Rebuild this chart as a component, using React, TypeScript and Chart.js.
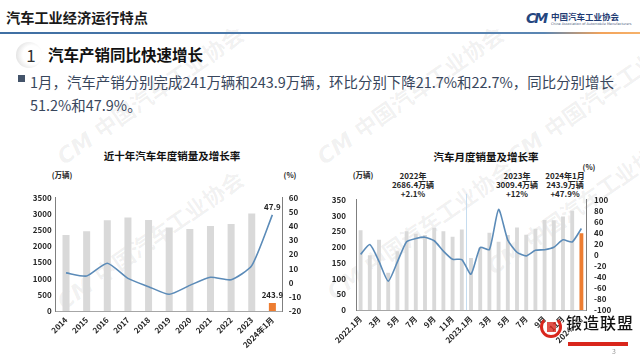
import React, { useEffect, useRef } from "react";
import { Chart, registerables } from "chart.js";
Chart.register(...registerables);

// ---------- data ----------
const yearCategories = ["2014", "2015", "2016", "2017", "2018", "2019", "2020", "2021", "2022", "2023", "2024年1月"];
const yearSales = [2349.2, 2459.8, 2802.8, 2887.9, 2808.1, 2576.9, 2531.1, 2627.5, 2686.4, 3009.4, 243.9];
const yearGrowth = [6.9, 4.7, 13.7, 3.0, -2.8, -8.2, -1.9, 3.8, 2.1, 12.0, 47.9];
const yearLeftTicks = { min: 0, max: 3500, step: 500 };
const yearRightTicks = { min: -20, max: 60, step: 10 };

const monthCategories = [
  "2022.1月", "2月", "3月", "4月", "5月", "6月", "7月", "8月", "9月", "10月", "11月", "12月",
  "2023.1月", "2月", "3月", "4月", "5月", "6月", "7月", "8月", "9月", "10月", "11月", "12月",
  "2024.1月",
];
const monthSales = [
  253.1, 173.7, 223.4, 118.1, 186.2, 250.2, 242.0, 238.3, 261.0, 250.1, 232.6, 255.6,
  164.9, 197.6, 245.1, 216.6, 238.2, 262.2, 238.7, 258.2, 285.8, 285.3, 297.0, 315.6,
  243.9,
];
const monthGrowth = [
  0.9, 18.7, -11.7, -47.6, -12.6, 23.8, 29.7, 32.1, 25.7, 6.9, -7.9, -8.4,
  -35.0, 13.5, 9.7, 82.5, 26.9, 4.8, -1.7, 8.4, 9.5, 13.8, 27.4, 23.5,
  47.9,
];
const monthLeftTicks = { min: 0, max: 350, step: 50 };
const monthRightTicks = { min: -100, max: 100, step: 20 };
const separatorBefore = "2023.1月";

const annotations = [
  { lines: ["2022年", "2686.4万辆", "+2.1%"], x: 413 },
  { lines: ["2023年", "3009.4万辆", "+12%"], x: 517 },
  { lines: ["2024年1月", "243.9万辆", "+47.9%"], x: 565 },
];

const watermarks = [
  { x: 150, y: 95 },
  { x: 410, y: 95 },
  { x: 600, y: 95 },
  { x: 150, y: 240 },
  { x: 420, y: 230 },
  { x: 580, y: 205 },
];

// ---------- style ----------
const FONT = '"Noto Sans CJK SC", "Noto Sans", sans-serif';
const GRAY = "#d9d9d9";
const ORANGE = "#ed7d31";
const LINE = "#5b8bb8";
const TICK = "#262626";

function barColors(n: number) {
  return Array.from({ length: n }, (_, i) => (i === n - 1 ? ORANGE : GRAY));
}

const tickFont = { family: FONT, size: 8, weight: "bold" as const };

function makeYAxis(
  pos: "left" | "right",
  t: { min: number; max: number; step: number },
  width: number,
  pad: number
) {
  return {
    position: pos,
    min: t.min,
    max: t.max,
    grid: { display: false, drawTicks: false },
    border: { display: true, color: "#7f7f7f", width: 1 },
    ticks: {
      stepSize: t.step,
      autoSkip: false,
      font: tickFont,
      color: TICK,
      padding: pad,
      callback: (v: any) => String(v),
    },
    afterFit: (s: any) => {
      s.width = width;
    },
  };
}

const lastLabelPlugin = {
  id: "lastLabels",
  afterDatasetsDraw(chart: any) {
    const ctx = chart.ctx;
    ctx.save();
    ctx.font = `bold 8px ${FONT}`;
    ctx.fillStyle = TICK;
    ctx.textAlign = "center";
    ctx.textBaseline = "bottom";
    chart.data.datasets.forEach((ds: any, i: number) => {
      const meta = chart.getDatasetMeta(i);
      const el = meta.data[meta.data.length - 1];
      const v = ds.data[ds.data.length - 1];
      ctx.fillText(String(v), el.x, el.y - 4);
    });
    ctx.restore();
  },
};

const separatorPlugin = {
  id: "separator",
  beforeDatasetsDraw(chart: any) {
    const xs = chart.scales.x;
    const idx = monthCategories.indexOf(separatorBefore);
    const px = (xs.getPixelForValue(idx - 1) + xs.getPixelForValue(idx)) / 2;
    const ctx = chart.ctx;
    ctx.save();
    ctx.strokeStyle = "#c5dcef";
    ctx.lineWidth = 1;
    ctx.beginPath();
    ctx.moveTo(Math.round(px) + 0.5, chart.chartArea.top - 6);
    ctx.lineTo(Math.round(px) + 0.5, chart.chartArea.bottom);
    ctx.stroke();
    ctx.restore();
  },
};

function YearChart() {
  const ref = useRef<HTMLCanvasElement>(null);
  useEffect(() => {
    const chart = new Chart(ref.current!, {
      type: "bar",
      data: {
        labels: yearCategories,
        datasets: [
          {
            type: "line",
            data: yearGrowth,
            yAxisID: "y1",
            borderColor: LINE,
            borderWidth: 1.6,
            pointRadius: 0,
            tension: 0.2,
            order: 0,
          } as any,
          {
            type: "bar",
            data: yearSales,
            yAxisID: "y",
            backgroundColor: barColors(yearSales.length),
            barPercentage: 0.34,
            categoryPercentage: 1,
            order: 1,
          },
        ],
      },
      options: {
        animation: false,
        responsive: false,
        layout: { padding: { top: 12.7, left: 0, right: 0, bottom: 0 } },
        plugins: { legend: { display: false }, tooltip: { enabled: false } },
        scales: {
          x: {
            grid: { display: false, drawTicks: false },
            border: { display: true, color: "#a6a6a6" },
            ticks: { font: tickFont, color: TICK, minRotation: 45, maxRotation: 45, autoSkip: false, padding: 4 },
            afterFit: (s: any) => {
              s.height = 49;
            },
          },
          y: makeYAxis("left", yearLeftTicks, 55.7, 4),
          y1: makeYAxis("right", yearRightTicks, 27.3, 6),
        } as any,
      },
      plugins: [lastLabelPlugin],
    });
    return () => chart.destroy();
  }, []);
  return <canvas ref={ref} width={310} height={175} style={{ position: "absolute", left: 0, top: 185 }} />;
}

function MonthChart() {
  const ref = useRef<HTMLCanvasElement>(null);
  useEffect(() => {
    const chart = new Chart(ref.current!, {
      type: "bar",
      data: {
        labels: monthCategories,
        datasets: [
          {
            type: "line",
            data: monthGrowth,
            yAxisID: "y1",
            borderColor: LINE,
            borderWidth: 1.6,
            pointRadius: 0,
            tension: 0.2,
            order: 0,
          } as any,
          {
            type: "bar",
            data: monthSales,
            yAxisID: "y",
            backgroundColor: barColors(monthSales.length),
            barPercentage: 0.42,
            categoryPercentage: 1,
            order: 1,
          },
        ],
      },
      options: {
        animation: false,
        responsive: false,
        layout: { padding: { top: 13, left: 0, right: 0, bottom: 0 } },
        plugins: { legend: { display: false }, tooltip: { enabled: false } },
        scales: {
          x: {
            grid: { display: false, drawTicks: false },
            border: { display: true, color: "#a6a6a6" },
            ticks: {
              font: tickFont,
              color: TICK,
              minRotation: 45,
              maxRotation: 45,
              autoSkip: false,
              padding: 4,
              callback: (_v: any, i: number) => (i % 2 === 0 ? monthCategories[i] : ""),
            },
            afterFit: (s: any) => {
              s.height = 50;
            },
          },
          y: makeYAxis("left", monthLeftTicks, 46, 10),
          y1: makeYAxis("right", monthRightTicks, 54, 8),
        } as any,
      },
      plugins: [separatorPlugin],
    });
    return () => chart.destroy();
  }, []);
  return <canvas ref={ref} width={330} height={175} style={{ position: "absolute", left: 310, top: 185 }} />;
}

const abs = (x: number, y: number, extra: React.CSSProperties = {}): React.CSSProperties => ({
  position: "absolute",
  left: x,
  top: y,
  whiteSpace: "nowrap",
  ...extra,
});

const centered = (x: number, y: number, extra: React.CSSProperties = {}): React.CSSProperties =>
  abs(x, y, { transform: "translate(-50%, -50%)", textAlign: "center", ...extra });

export default function App() {
  return (
    <div
      style={{
        position: "fixed",
        left: 0,
        top: 0,
        width: 640,
        height: 360,
        background: "#ffffff",
        overflow: "hidden",
        fontFamily: FONT,
        color: "#222",
      }}
    >
      {/* faint watermarks */}
      {watermarks.map((w, i) => (
        <div
          key={"wm" + i}
          style={abs(w.x, w.y, {
            transform: "translate(-50%, -50%) rotate(-35deg)",
            color: "rgba(60,60,60,0.07)",
            fontSize: 22,
            fontWeight: 700,
            lineHeight: "24px",
          })}
        >
          <span style={{ fontStyle: "italic", fontFamily: '"DejaVu Sans", sans-serif', fontWeight: 900 }}>CM </span>
          中国汽车工业协会
        </div>
      ))}

      {/* header */}
      <div style={abs(6, 6, { fontSize: 14.2, fontWeight: 700, color: "#1a1a1a", lineHeight: "22px" })}>
        汽车工业经济运行特点
      </div>
      <div
        style={abs(526, 8, {
          fontSize: 14,
          fontWeight: 900,
          fontStyle: "italic",
          color: "#25467f",
          fontFamily: '"DejaVu Sans", sans-serif',
          letterSpacing: -2,
          lineHeight: "20px",
        })}
      >
        CM
      </div>
      <div style={abs(551, 11, { fontSize: 8.5, fontWeight: 700, color: "#1f3b73", lineHeight: "10px" })}>
        中国汽车工业协会
      </div>
      <div
        style={abs(551, 22, {
          fontSize: 3.4,
          color: "#4a5a7a",
          lineHeight: "4px",
          fontFamily: '"DejaVu Sans", sans-serif',
        })}
      >
        China Association of Automobile Manufacturers
      </div>
      <div
        style={abs(0, 32, {
          width: 640,
          height: 2,
          background: "linear-gradient(90deg, #3f6fa3 0%, #5b86b3 85%, #f3a35a 94%, #f6b26b 100%)",
        })}
      />

      {/* section heading */}
      <div
        style={abs(16, 42, {
          width: 26,
          height: 26,
          borderRadius: "50%",
          background: "radial-gradient(circle at 62% 50%, #ffffff 45%, #e6e6e6 75%, #cfcfcf 100%)",
        })}
      />
      <div style={centered(31, 55, { fontSize: 17, color: "#333", lineHeight: "20px" })}>1</div>
      <div style={abs(48, 44, { fontSize: 15.5, fontWeight: 700, color: "#111", lineHeight: "20px" })}>
        汽车产销同比快速增长
      </div>

      {/* bullet text */}
      <div style={abs(18, 75, { width: 7, height: 7, background: "#44546a" })} />
      <div style={abs(30, 71, { fontSize: 14.45, color: "#38465c", lineHeight: "22.5px", whiteSpace: "normal", width: 605 })}>
        1月，汽车产销分别完成241万辆和243.9万辆，环比分别下降21.7%和22.7%，同比分别增长
        <br />
        51.2%和47.9%。
      </div>

      {/* left chart texts */}
      <div style={centered(172, 155, { fontSize: 10.5, fontWeight: 700, color: "#111" })}>近十年汽车年度销量及增长率</div>
      <div style={centered(62, 174, { fontSize: 7.5, fontWeight: 700, color: TICK })}>(万辆)</div>
      <div style={centered(290, 174, { fontSize: 7.5, fontWeight: 700, color: TICK })}>(%)</div>

      {/* right chart texts */}
      <div style={centered(486, 156, { fontSize: 10.5, fontWeight: 700, color: "#111" })}>汽车月度销量及增长率</div>
      <div style={centered(363, 174, { fontSize: 7.5, fontWeight: 700, color: TICK })}>(万辆)</div>
      <div style={centered(589, 166, { fontSize: 7.5, fontWeight: 700, color: TICK })}>(%)</div>
      {annotations.map((a, i) => (
        <div
          key={i}
          style={abs(a.x, 172, {
            transform: "translateX(-50%)",
            textAlign: "center",
            fontSize: 8,
            fontWeight: 700,
            color: TICK,
            lineHeight: "8.8px",
          })}
        >
          {a.lines.map((l, j) => (
            <div key={j}>{l}</div>
          ))}
        </div>
      ))}

      <YearChart />
      <MonthChart />

      {/* overlay logo */}
      <div
        style={abs(540, 316, {
          width: 22,
          height: 22,
          borderRadius: "50%",
          border: "3px solid #d9261c",
          borderTopColor: "transparent",
          boxSizing: "border-box",
        })}
      />
      <div style={abs(547, 322, { width: 9, height: 10, background: "#d9261c", opacity: 0.8 })} />
      <div
        style={abs(566, 312, {
          fontSize: 16,
          fontWeight: 500,
          color: "#111",
          lineHeight: "20px",
          letterSpacing: 1,
          textShadow: "0 0 2px #fff, 0 0 2px #fff",
        })}
      >
        锻造联盟
      </div>
      <div style={abs(568, 342, { width: 60, height: 4, background: "#d9261c" })} />
      <div style={abs(612, 347, { fontSize: 7, color: "#999", lineHeight: "9px" })}>3</div>
    </div>
  );
}
